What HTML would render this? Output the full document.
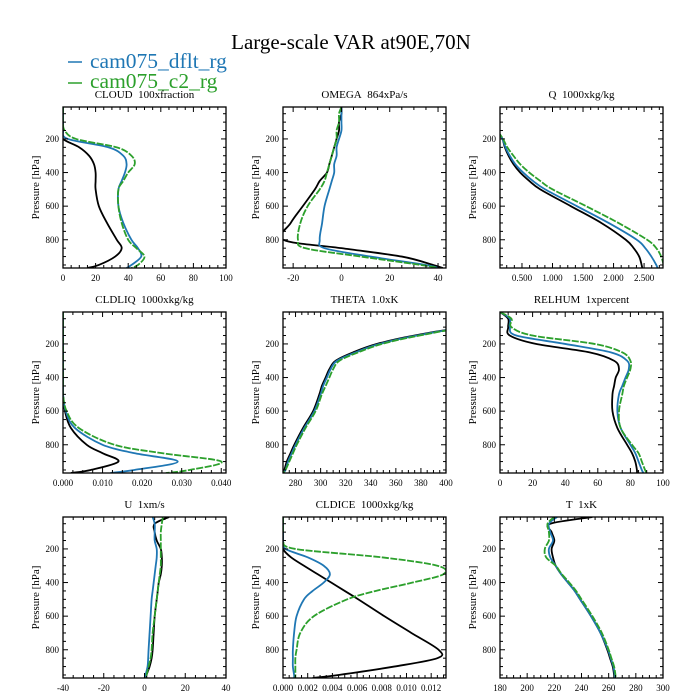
<!DOCTYPE html>
<html><head><meta charset="utf-8"><style>
html,body{margin:0;padding:0;background:#fff;}
svg{display:block;font-family:"Liberation Serif",serif;}
</style></head><body>
<svg id="chart" width="700" height="700" viewBox="0 0 700 700">
<rect width="700" height="700" fill="#fff"/>
<text x="351" y="49" font-size="21" text-anchor="middle">Large-scale VAR at90E,70N</text>
<g>
<line x1="68" y1="62" x2="82" y2="62" stroke="#1f77b4" stroke-width="1.5"/>
<text x="90" y="68" font-size="21.5" fill="#1f77b4">cam075_dflt_rg</text>
<line x1="68" y1="83" x2="82" y2="83" stroke="#2ca02c" stroke-width="1.5"/>
<text x="90" y="88" font-size="21.5" fill="#2ca02c">cam075_c2_rg</text>
</g>
</svg>
<script>
const levels = [10,50,100,150,200,250,300,350,400,450,500,600,700,800,850,900,950,968];
const panelTitles = ["CLOUD\u00a0\u00a0100xfraction","OMEGA\u00a0\u00a0864xPa/s","Q\u00a0\u00a01000xkg/kg","CLDLIQ\u00a0\u00a01000xkg/kg","THETA\u00a0\u00a01.0xK","RELHUM\u00a0\u00a01xpercent","U\u00a0\u00a01xm/s","CLDICE\u00a0\u00a01000xkg/kg","T\u00a0\u00a01xK"];
const cloudBlack = [0,0,0,0,0,10,16,19,20,20,20,22,27,33,36,32,22,15];
const cloudBlue  = [0,0,0,0,3,28,37,39,38,36,34,34,37,42,46,48,42,39];
const cloudGreen = [0,0,0,1,8,33,42,44,40,37,34,34,36,40,45,50,46,42];
const omegaBlack = [0,0,-1,-1,-2,-3,-4,-5,-6,-9,-11,-16,-21,-24,0,25,38,42];
const omegaBlue  = [0,0,0,0,-1,-2,-2,-3,-3,-4,-5,-7,-8,-9,-7,12,35,40];
const omegaGreen = [0,-1,-1,-2,-2,-3,-4,-5,-6,-7,-9,-14,-17,-18,-15,8,33,40];
const qBlack = [0,0.02,0.05,0.1,0.18,0.22,0.28,0.36,0.47,0.62,0.8,1.3,1.8,2.2,2.33,2.42,2.46,2.47];
const qBlue  = [0,0.02,0.05,0.1,0.18,0.23,0.3,0.39,0.52,0.68,0.88,1.4,1.92,2.38,2.52,2.62,2.7,2.72];
const qGreen = [0,0.02,0.05,0.1,0.19,0.26,0.36,0.47,0.62,0.8,1.0,1.55,2.08,2.55,2.7,2.78,2.82,2.82];
const liqBlack = [0,0,0,0,0,0,0,0,0,0,0,0.0005,0.002,0.006,0.01,0.014,0.007,0.002];
const liqBlue  = [0,0,0,0,0,0,0,0,0,0,0,0.0007,0.003,0.01,0.018,0.029,0.018,0.012];
const liqGreen = [0,0,0,0,0,0,0,0,0,0,0,0.0009,0.004,0.013,0.025,0.04,0.032,0.026];
const thetaBlack = [700,520,420,375,345,326,312,307,304,301,299,294,286,279,276,273,271,269];
const thetaBlue  = [700,520,421,377,347,328,313,308,305,302,300,295,287,280,277,274,272,270];
const thetaGreen = [700,520,422,379,349,330,315,310,307,304,301,296,288,281,278,275,272,270];
const rhBlack = [0,5,5,6,22,55,70,73,71,70,69,69,72,78,81,83,84,84];
const rhBlue  = [0,6,6,10,40,68,78,79,77,75,73,72,74,80,83,85,87,88];
const rhGreen = [0,7,7,20,58,75,80,80,78,76,75,73,74,81,85,87,89,90];
const uBlack = [12,5,5,6,8,8.5,8.5,8,7,6.5,6,5,4.5,4,3.5,2.5,1,1];
const uBlue  = [4,5,5,5,6,6,5.5,5,4.5,4,3.5,3,2.5,2,1.8,1.5,0.5,0];
const uGreen = [9,8.5,8,8,8,8,8,7.5,7,6.5,6,5,4,3.5,3,2,1,0.5];
const iceBlack = [0,0,0,0,0,0.00065,0.0017,0.0028,0.0039,0.005,0.0061,0.0082,0.0104,0.0126,0.0125,0.009,0.0045,0.0024];
const iceBlue  = [0,0,0,0,0.0002,0.002,0.0033,0.0038,0.0033,0.0024,0.0017,0.0011,0.0009,0.0008,0.0008,0.0008,0.0009,0.0009];
const iceGreen = [0,0,0,0,0.001,0.008,0.0125,0.013,0.0105,0.0075,0.0052,0.0025,0.0014,0.0011,0.001,0.001,0.001,0.001];
const tBlack = [248,217,218,220,218,219,221,225,230,235,239,247,254,259,261,263,264,264];
const tBlue  = [222,216,217,219,216,217,221,225,230,235,239,247,254,259.5,261.5,263.5,264.5,264.5];
const tGreen = [220,215,216,216,213,214,221,225.5,231,236,240,248,255,260,262,264,265,265];
const xDomains = [[0,100],[-24.2,43.3],[0.14,2.81],[0,0.0412],[270,400],[0,100],[-40,40],[0,0.0132],[180,300]];
const xTicks = [[0,20,40,60,80,100],[-20,0,20,40],[0.5,1,1.5,2,2.5],[0,0.01,0.02,0.03,0.04],[280,300,320,340,360,380,400],[0,20,40,60,80,100],[-40,-20,0,20,40],[0,0.002,0.004,0.006,0.008,0.01,0.012],[180,200,220,240,260,280,300]];
const tickLabels = [["0","20","40","60","80","100"],["-20","0","20","40"],["0.500","1.000","1.500","2.000","2.500"],["0.000","0.010","0.020","0.030","0.040"],["280","300","320","340","360","380","400"],["0","20","40","60","80","100"],["-40","-20","0","20","40"],["0.000","0.002","0.004","0.006","0.008","0.010","0.012"],["180","200","220","240","260","280","300"]];
const pTicks = [200,400,600,800];
const seriesBlack = [cloudBlack,omegaBlack,qBlack,liqBlack,thetaBlack,rhBlack,uBlack,iceBlack,tBlack];
const seriesBlue = [cloudBlue,omegaBlue,qBlue,liqBlue,thetaBlue,rhBlue,uBlue,iceBlue,tBlue];
const seriesGreen = [cloudGreen,omegaGreen,qGreen,liqGreen,thetaGreen,rhGreen,uGreen,iceGreen,tGreen];
const keys = ["cloud","omega","q","cldliq","theta","relhum","u","cldice","t"];

const NS = "http://www.w3.org/2000/svg";
const svg = document.getElementById("chart");
const colX = [63,283,500], rowY = [107,312,517], W = 163, H = 161;
const pMin = 10, pMax = 968;
function mk(tag, attrs, parent){const e=document.createElementNS(NS,tag);for(const k in attrs)e.setAttribute(k,attrs[k]);parent.appendChild(e);return e;}
function smooth(pts){
  let d="M"+pts[0][0].toFixed(2)+","+pts[0][1].toFixed(2);
  for(let i=0;i<pts.length-1;i++){
    const p0=pts[Math.max(0,i-1)],p1=pts[i],p2=pts[i+1],p3=pts[Math.min(pts.length-1,i+2)];
    const c1=[p1[0]+(p2[0]-p0[0])/6,p1[1]+(p2[1]-p0[1])/6];
    const c2=[p2[0]-(p3[0]-p1[0])/6,p2[1]-(p3[1]-p1[1])/6];
    d+="C"+c1[0].toFixed(2)+","+c1[1].toFixed(2)+" "+c2[0].toFixed(2)+","+c2[1].toFixed(2)+" "+p2[0].toFixed(2)+","+p2[1].toFixed(2);
  }
  return d;
}
for(let i=0;i<9;i++){
  const x0=colX[i%3], y0=rowY[Math.floor(i/3)];
  const [d0,d1]=xDomains[i];
  const sx=v=>x0+(v-d0)/(d1-d0)*W;
  const sy=p=>y0+(p-pMin)/(pMax-pMin)*H;
  const g=mk("g",{},svg);
  
  
  const t=mk("text",{x:x0+W/2,y:y0-9,"font-size":"11","text-anchor":"middle"},g);
  t.textContent=panelTitles[i];
  
  
  const yl=mk("text",{x:0,y:0,"font-size":"11","text-anchor":"middle",transform:"translate("+(x0-24)+","+(y0+H/2)+") rotate(-90)"},g);
  yl.textContent="Pressure [hPa]";
  
  
  const cid="clip"+i;
  const cp=mk("clipPath",{id:cid},g);
  mk("rect",{x:x0,y:y0,width:W,height:H},cp);
  const lines=mk("g",{"clip-path":"url(#"+cid+")"},g);
  const sets=[[seriesBlack[i],"#000","none","black"],[seriesBlue[i],"#1f77b4","none","dflt"],[seriesGreen[i],"#2ca02c","7,1.5","c2"]];
  for(const [vals,col,dash,nm] of sets){
    const pts=vals.map((v,k)=>[sx(v),sy(levels[k])]);
    const path=mk("path",{d:smooth(pts),fill:"none",stroke:col,"stroke-width":"1.8","stroke-dasharray":dash},lines);
    
    
  }
  const ax=mk("g",{stroke:"#000","stroke-width":"1"},g);
  
  
  mk("rect",{x:x0,y:y0,width:W,height:H,fill:"none","stroke-width":"1.3"},ax);
  for(let p=50;p<pMax;p+=50){
    const y=sy(p), major=pTicks.includes(p), L=major?5:3;
    mk("line",{x1:x0,y1:y,x2:x0+L,y2:y},ax);
    mk("line",{x1:x0+W,y1:y,x2:x0+W-L,y2:y},ax);
  }
  pTicks.forEach(p=>{
    const lt=mk("text",{x:x0-4,y:sy(p)+3,"font-size":"9","text-anchor":"end",stroke:"none"},g);
    lt.textContent=String(p);
    
    
  });
  const tk=xTicks[i], step=tk[1]-tk[0], minor=step/4;
  for(let v=tk[0]-4*minor; v<=d1+1e-9; v+=minor){
    if(v<d0-1e-9) continue;
    const x=sx(v);
    const isMaj=Math.abs(((v-tk[0])/step)-Math.round((v-tk[0])/step))<1e-6;
    const L=isMaj?5:3;
    mk("line",{x1:x,y1:y0+H,x2:x,y2:y0+H-L},ax);
    mk("line",{x1:x,y1:y0,x2:x,y2:y0+L},ax);
  }
  tk.forEach((v,k)=>{
    const lt=mk("text",{x:sx(v),y:y0+H+13,"font-size":"9","text-anchor":"middle"},g);
    lt.textContent=tickLabels[i][k];
    
    
  });
}
</script>
</body></html>
